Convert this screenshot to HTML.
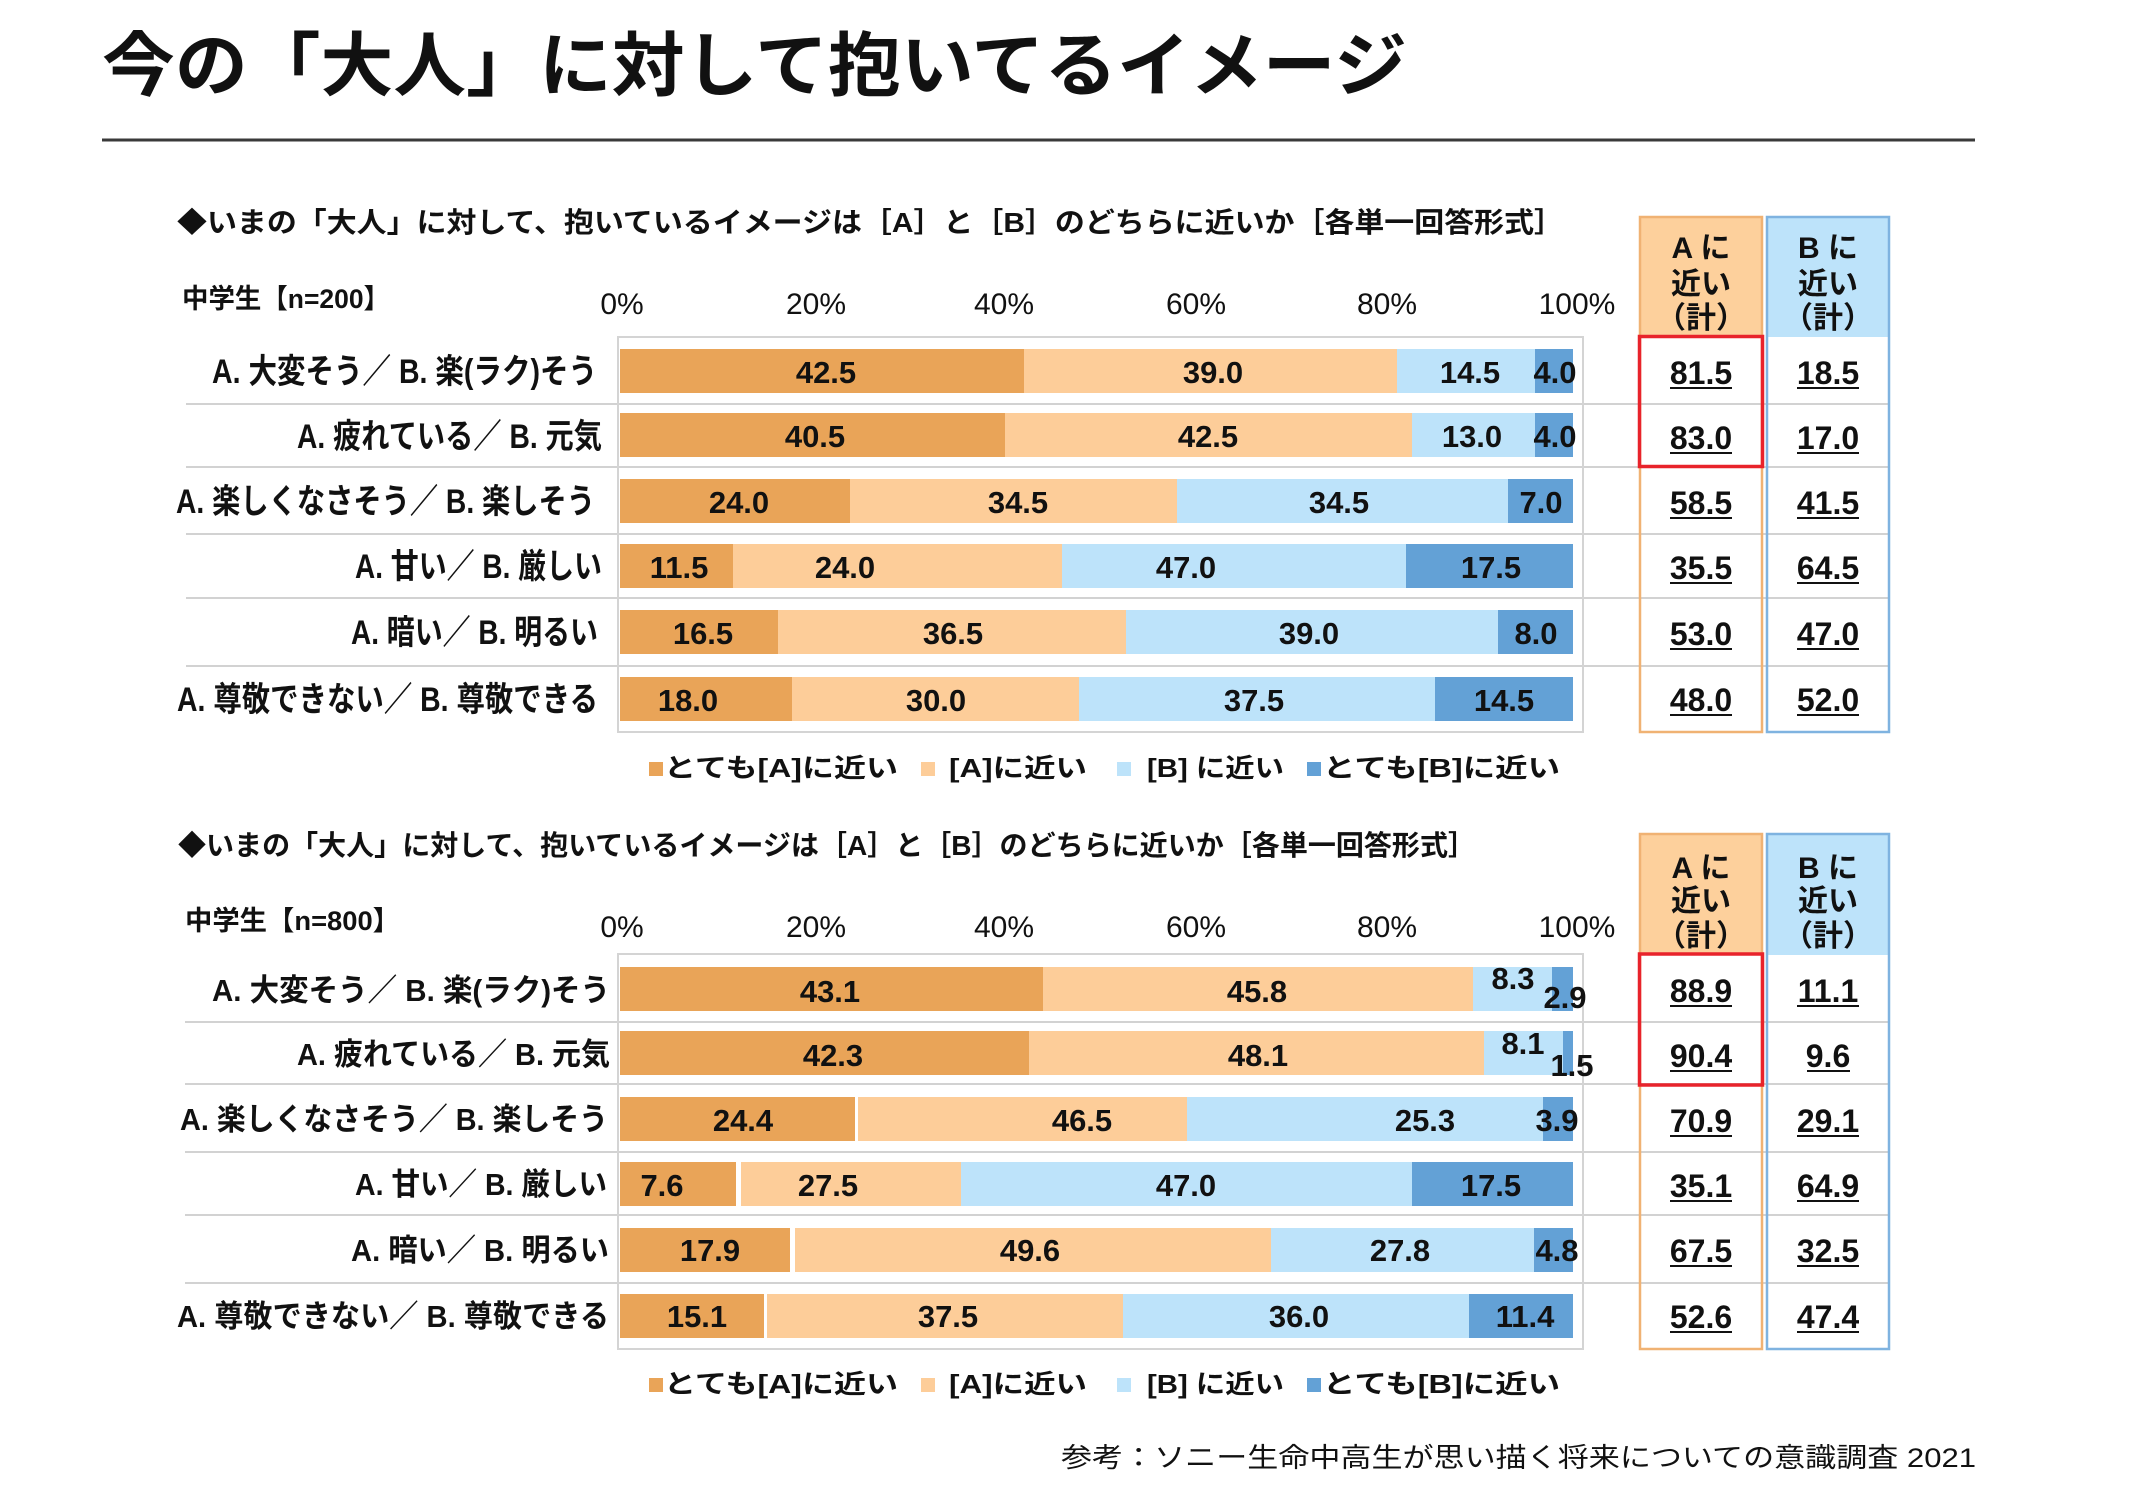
<!DOCTYPE html>
<html><head><meta charset="utf-8">
<style>
html,body{margin:0;padding:0;background:#fff;}
svg{display:block;}
text{font-family:"Liberation Sans","Noto Sans CJK JP",sans-serif;fill:#111;}
.b{font-weight:bold;}
.v{font-size:31px;font-weight:bold;text-anchor:middle;}
.t{font-size:30px;text-anchor:middle;}
.tv{font-size:32px;font-weight:bold;text-anchor:middle;}
.h{font-size:30px;font-weight:bold;text-anchor:middle;}
</style></head>
<body>
<svg width="2134" height="1495" viewBox="0 0 2134 1495" xmlns="http://www.w3.org/2000/svg">
<rect width="2134" height="1495" fill="#fff"/>
<!-- Title -->
<text x="102" y="90" class="b" style="font-size:70px" textLength="1305" lengthAdjust="spacingAndGlyphs">今の「大人」に対して抱いてるイメージ</text>
<line x1="102" y1="140" x2="1975" y2="140" stroke="#3a3a3a" stroke-width="3"/>

<!-- ============ CHART 1 ============ -->
<text x="177" y="232" class="b" style="font-size:28px" textLength="1387" lengthAdjust="spacingAndGlyphs">◆いまの「大人」に対して、抱いているイメージは［A］と［B］のどちらに近いか［各単一回答形式］</text>
<text x="182" y="308" class="b" style="font-size:27px" textLength="208" lengthAdjust="spacingAndGlyphs">中学生【n=200】</text>
<g class="t">
<text x="622" y="314" class="t">0%</text>
<text x="816" y="314" class="t">20%</text>
<text x="1004" y="314" class="t">40%</text>
<text x="1196" y="314" class="t">60%</text>
<text x="1387" y="314" class="t">80%</text>
<text x="1577" y="314" class="t">100%</text>
</g>
<!-- separators -->
<g stroke="#d2d2d2" stroke-width="2">
<line x1="186" y1="404" x2="1889" y2="404"/>
<line x1="186" y1="467" x2="1889" y2="467"/>
<line x1="186" y1="534" x2="1889" y2="534"/>
<line x1="186" y1="598" x2="1889" y2="598"/>
<line x1="186" y1="666" x2="1889" y2="666"/>
</g>
<rect x="618" y="337" width="965" height="395" fill="none" stroke="#d4d4d4" stroke-width="2"/>
<!-- bars -->
<g>
<rect x="620" y="349" width="404" height="44" fill="#E9A458"/>
<rect x="1024" y="349" width="373" height="44" fill="#FDCD99"/>
<rect x="1397" y="349" width="138" height="44" fill="#BDE3FA"/>
<rect x="1535" y="349" width="38" height="44" fill="#63A1D6"/>

<rect x="620" y="413" width="385" height="44" fill="#E9A458"/>
<rect x="1005" y="413" width="407" height="44" fill="#FDCD99"/>
<rect x="1412" y="413" width="123" height="44" fill="#BDE3FA"/>
<rect x="1535" y="413" width="38" height="44" fill="#63A1D6"/>

<rect x="620" y="479" width="230" height="44" fill="#E9A458"/>
<rect x="850" y="479" width="327" height="44" fill="#FDCD99"/>
<rect x="1177" y="479" width="331" height="44" fill="#BDE3FA"/>
<rect x="1508" y="479" width="65" height="44" fill="#63A1D6"/>

<rect x="620" y="544" width="113" height="44" fill="#E9A458"/>
<rect x="733" y="544" width="329" height="44" fill="#FDCD99"/>
<rect x="1062" y="544" width="344" height="44" fill="#BDE3FA"/>
<rect x="1406" y="544" width="167" height="44" fill="#63A1D6"/>

<rect x="620" y="610" width="158" height="44" fill="#E9A458"/>
<rect x="778" y="610" width="348" height="44" fill="#FDCD99"/>
<rect x="1126" y="610" width="372" height="44" fill="#BDE3FA"/>
<rect x="1498" y="610" width="75" height="44" fill="#63A1D6"/>

<rect x="620" y="677" width="172" height="44" fill="#E9A458"/>
<rect x="792" y="677" width="287" height="44" fill="#FDCD99"/>
<rect x="1079" y="677" width="356" height="44" fill="#BDE3FA"/>
<rect x="1435" y="677" width="138" height="44" fill="#63A1D6"/>
</g>
<!-- values -->
<text x="826" y="383" class="v">42.5</text><text x="1213" y="383" class="v">39.0</text><text x="1470" y="383" class="v">14.5</text><text x="1555" y="383" class="v">4.0</text>
<text x="815" y="447" class="v">40.5</text><text x="1208" y="447" class="v">42.5</text><text x="1472" y="447" class="v">13.0</text><text x="1555" y="447" class="v">4.0</text>
<text x="739" y="513" class="v">24.0</text><text x="1018" y="513" class="v">34.5</text><text x="1339" y="513" class="v">34.5</text><text x="1541" y="513" class="v">7.0</text>
<text x="679" y="578" class="v">11.5</text><text x="845" y="578" class="v">24.0</text><text x="1186" y="578" class="v">47.0</text><text x="1491" y="578" class="v">17.5</text>
<text x="703" y="644" class="v">16.5</text><text x="953" y="644" class="v">36.5</text><text x="1309" y="644" class="v">39.0</text><text x="1536" y="644" class="v">8.0</text>
<text x="688" y="711" class="v">18.0</text><text x="936" y="711" class="v">30.0</text><text x="1254" y="711" class="v">37.5</text><text x="1504" y="711" class="v">14.5</text>
<!-- row labels -->
<g class="b" style="font-size:34px">
<text x="212" y="383" textLength="385" lengthAdjust="spacingAndGlyphs">A. 大変そう／ B. 楽(ラク)そう</text>
<text x="297" y="448" textLength="305" lengthAdjust="spacingAndGlyphs">A. 疲れている／ B. 元気</text>
<text x="176" y="513" textLength="419" lengthAdjust="spacingAndGlyphs">A. 楽しくなさそう／ B. 楽しそう</text>
<text x="355" y="578" textLength="247" lengthAdjust="spacingAndGlyphs">A. 甘い／ B. 厳しい</text>
<text x="351" y="644" textLength="247" lengthAdjust="spacingAndGlyphs">A. 暗い／ B. 明るい</text>
<text x="177" y="711" textLength="421" lengthAdjust="spacingAndGlyphs">A. 尊敬できない／ B. 尊敬できる</text>
</g>
<!-- table -->
<rect x="1640" y="217" width="122" height="120" fill="#FDD09C"/>
<rect x="1767" y="217" width="122" height="120" fill="#BDE3FA"/>
<rect x="1640" y="217" width="122" height="515" fill="none" stroke="#F0B273" stroke-width="2.5"/>
<rect x="1767" y="217" width="122" height="515" fill="none" stroke="#7FB3E0" stroke-width="2.5"/>
<text x="1701" y="258" class="h">A に</text><text x="1701" y="294" class="h">近い</text><text x="1701" y="328" class="h">（計）</text>
<text x="1828" y="258" class="h">B に</text><text x="1828" y="294" class="h">近い</text><text x="1828" y="328" class="h">（計）</text>
<rect x="1639.5" y="336.5" width="123" height="130" fill="none" stroke="#E8232B" stroke-width="3.5"/>
<g class="tv">
<text x="1701" y="384" class="tv">81.5</text><text x="1828" y="384" class="tv">18.5</text>
<text x="1701" y="449" class="tv">83.0</text><text x="1828" y="449" class="tv">17.0</text>
<text x="1701" y="514" class="tv">58.5</text><text x="1828" y="514" class="tv">41.5</text>
<text x="1701" y="579" class="tv">35.5</text><text x="1828" y="579" class="tv">64.5</text>
<text x="1701" y="645" class="tv">53.0</text><text x="1828" y="645" class="tv">47.0</text>
<text x="1701" y="711" class="tv">48.0</text><text x="1828" y="711" class="tv">52.0</text>
</g>
<g stroke="#111" stroke-width="2">
<line x1="1670" y1="388" x2="1732" y2="388"/><line x1="1797" y1="388" x2="1859" y2="388"/>
<line x1="1670" y1="453" x2="1732" y2="453"/><line x1="1797" y1="453" x2="1859" y2="453"/>
<line x1="1670" y1="518" x2="1732" y2="518"/><line x1="1797" y1="518" x2="1859" y2="518"/>
<line x1="1670" y1="583" x2="1732" y2="583"/><line x1="1797" y1="583" x2="1859" y2="583"/>
<line x1="1670" y1="649" x2="1732" y2="649"/><line x1="1797" y1="649" x2="1859" y2="649"/>
<line x1="1670" y1="715" x2="1732" y2="715"/><line x1="1797" y1="715" x2="1859" y2="715"/>
</g>
<!-- legend 1 -->
<rect x="649" y="762" width="14" height="14" fill="#E9A458"/>
<text x="664" y="777" class="b" style="font-size:26px" textLength="234" lengthAdjust="spacingAndGlyphs">とても[A]に近い</text>
<rect x="921" y="762" width="14" height="14" fill="#FDCD99"/>
<text x="949" y="777" class="b" style="font-size:26px" textLength="138" lengthAdjust="spacingAndGlyphs">[A]に近い</text>
<rect x="1117" y="762" width="14" height="14" fill="#BDE3FA"/>
<text x="1147" y="777" class="b" style="font-size:26px" textLength="137" lengthAdjust="spacingAndGlyphs">[B] に近い</text>
<rect x="1307" y="762" width="14" height="14" fill="#63A1D6"/>
<text x="1323" y="777" class="b" style="font-size:26px" textLength="237" lengthAdjust="spacingAndGlyphs">とても[B]に近い</text>

<!-- ============ CHART 2 ============ -->
<text x="178" y="855" class="b" style="font-size:28px" textLength="1298" lengthAdjust="spacingAndGlyphs">◆いまの「大人」に対して、抱いているイメージは［A］と［B］のどちらに近いか［各単一回答形式］</text>
<text x="185" y="930" class="b" style="font-size:27px" textLength="215" lengthAdjust="spacingAndGlyphs">中学生【n=800】</text>
<text x="622" y="937" class="t">0%</text>
<text x="816" y="937" class="t">20%</text>
<text x="1004" y="937" class="t">40%</text>
<text x="1196" y="937" class="t">60%</text>
<text x="1387" y="937" class="t">80%</text>
<text x="1577" y="937" class="t">100%</text>
<g stroke="#d2d2d2" stroke-width="2">
<line x1="185" y1="1022" x2="1889" y2="1022"/>
<line x1="185" y1="1084" x2="1889" y2="1084"/>
<line x1="185" y1="1152" x2="1889" y2="1152"/>
<line x1="185" y1="1215" x2="1889" y2="1215"/>
<line x1="185" y1="1283" x2="1889" y2="1283"/>
</g>
<rect x="618" y="954" width="965" height="395" fill="none" stroke="#d4d4d4" stroke-width="2"/>
<g>
<rect x="620" y="967" width="423" height="44" fill="#E9A458"/>
<rect x="1043" y="967" width="430" height="44" fill="#FDCD99"/>
<rect x="1473" y="967" width="79" height="44" fill="#BDE3FA"/>
<rect x="1552" y="967" width="21" height="44" fill="#63A1D6"/>

<rect x="620" y="1031" width="409" height="44" fill="#E9A458"/>
<rect x="1029" y="1031" width="455" height="44" fill="#FDCD99"/>
<rect x="1484" y="1031" width="79" height="44" fill="#BDE3FA"/>
<rect x="1563" y="1031" width="10" height="44" fill="#63A1D6"/>

<rect x="620" y="1097" width="235" height="44" fill="#E9A458"/>
<rect x="858" y="1097" width="329" height="44" fill="#FDCD99"/>
<rect x="1187" y="1097" width="356" height="44" fill="#BDE3FA"/>
<rect x="1543" y="1097" width="30" height="44" fill="#63A1D6"/>

<rect x="620" y="1162" width="116" height="44" fill="#E9A458"/>
<rect x="741" y="1162" width="220" height="44" fill="#FDCD99"/>
<rect x="961" y="1162" width="451" height="44" fill="#BDE3FA"/>
<rect x="1412" y="1162" width="161" height="44" fill="#63A1D6"/>

<rect x="620" y="1228" width="170" height="44" fill="#E9A458"/>
<rect x="795" y="1228" width="476" height="44" fill="#FDCD99"/>
<rect x="1271" y="1228" width="263" height="44" fill="#BDE3FA"/>
<rect x="1534" y="1228" width="39" height="44" fill="#63A1D6"/>

<rect x="620" y="1294" width="144" height="44" fill="#E9A458"/>
<rect x="767" y="1294" width="356" height="44" fill="#FDCD99"/>
<rect x="1123" y="1294" width="346" height="44" fill="#BDE3FA"/>
<rect x="1469" y="1294" width="104" height="44" fill="#63A1D6"/>
</g>
<text x="830" y="1002" class="v">43.1</text><text x="1257" y="1002" class="v">45.8</text><text x="1513" y="989" class="v">8.3</text><text x="1565" y="1008" class="v">2.9</text>
<text x="833" y="1066" class="v">42.3</text><text x="1258" y="1066" class="v">48.1</text><text x="1523" y="1054" class="v">8.1</text><text x="1572" y="1076" class="v">1.5</text>
<text x="743" y="1131" class="v">24.4</text><text x="1082" y="1131" class="v">46.5</text><text x="1425" y="1131" class="v">25.3</text><text x="1557" y="1131" class="v">3.9</text>
<text x="662" y="1196" class="v">7.6</text><text x="828" y="1196" class="v">27.5</text><text x="1186" y="1196" class="v">47.0</text><text x="1491" y="1196" class="v">17.5</text>
<text x="710" y="1261" class="v">17.9</text><text x="1030" y="1261" class="v">49.6</text><text x="1400" y="1261" class="v">27.8</text><text x="1557" y="1261" class="v">4.8</text>
<text x="697" y="1327" class="v">15.1</text><text x="948" y="1327" class="v">37.5</text><text x="1299" y="1327" class="v">36.0</text><text x="1525" y="1327" class="v">11.4</text>
<g class="b" style="font-size:31px">
<text x="212" y="1001" textLength="398" lengthAdjust="spacingAndGlyphs">A. 大変そう／ B. 楽(ラク)そう</text>
<text x="297" y="1065" textLength="313" lengthAdjust="spacingAndGlyphs">A. 疲れている／ B. 元気</text>
<text x="180" y="1130" textLength="428" lengthAdjust="spacingAndGlyphs">A. 楽しくなさそう／ B. 楽しそう</text>
<text x="355" y="1195" textLength="252" lengthAdjust="spacingAndGlyphs">A. 甘い／ B. 厳しい</text>
<text x="351" y="1261" textLength="258" lengthAdjust="spacingAndGlyphs">A. 暗い／ B. 明るい</text>
<text x="177" y="1327" textLength="432" lengthAdjust="spacingAndGlyphs">A. 尊敬できない／ B. 尊敬できる</text>
</g>
<rect x="1640" y="834" width="122" height="121" fill="#FDD09C"/>
<rect x="1767" y="834" width="122" height="121" fill="#BDE3FA"/>
<rect x="1640" y="834" width="122" height="515" fill="none" stroke="#F0B273" stroke-width="2.5"/>
<rect x="1767" y="834" width="122" height="515" fill="none" stroke="#7FB3E0" stroke-width="2.5"/>
<text x="1701" y="878" class="h">A に</text><text x="1701" y="911" class="h">近い</text><text x="1701" y="946" class="h">（計）</text>
<text x="1828" y="878" class="h">B に</text><text x="1828" y="911" class="h">近い</text><text x="1828" y="946" class="h">（計）</text>
<rect x="1639.5" y="954" width="123" height="131" fill="none" stroke="#E8232B" stroke-width="3.5"/>
<text x="1701" y="1002" class="tv">88.9</text><text x="1828" y="1002" class="tv">11.1</text>
<text x="1701" y="1067" class="tv">90.4</text><text x="1828" y="1067" class="tv">9.6</text>
<text x="1701" y="1132" class="tv">70.9</text><text x="1828" y="1132" class="tv">29.1</text>
<text x="1701" y="1197" class="tv">35.1</text><text x="1828" y="1197" class="tv">64.9</text>
<text x="1701" y="1262" class="tv">67.5</text><text x="1828" y="1262" class="tv">32.5</text>
<text x="1701" y="1328" class="tv">52.6</text><text x="1828" y="1328" class="tv">47.4</text>
<g stroke="#111" stroke-width="2">
<line x1="1670" y1="1006" x2="1732" y2="1006"/><line x1="1797" y1="1006" x2="1859" y2="1006"/>
<line x1="1670" y1="1071" x2="1732" y2="1071"/><line x1="1807" y1="1071" x2="1850" y2="1071"/>
<line x1="1670" y1="1136" x2="1732" y2="1136"/><line x1="1797" y1="1136" x2="1859" y2="1136"/>
<line x1="1670" y1="1201" x2="1732" y2="1201"/><line x1="1797" y1="1201" x2="1859" y2="1201"/>
<line x1="1670" y1="1266" x2="1732" y2="1266"/><line x1="1797" y1="1266" x2="1859" y2="1266"/>
<line x1="1670" y1="1332" x2="1732" y2="1332"/><line x1="1797" y1="1332" x2="1859" y2="1332"/>
</g>
<!-- legend 2 -->
<rect x="649" y="1378" width="14" height="14" fill="#E9A458"/>
<text x="664" y="1393" class="b" style="font-size:26px" textLength="234" lengthAdjust="spacingAndGlyphs">とても[A]に近い</text>
<rect x="921" y="1378" width="14" height="14" fill="#FDCD99"/>
<text x="949" y="1393" class="b" style="font-size:26px" textLength="138" lengthAdjust="spacingAndGlyphs">[A]に近い</text>
<rect x="1117" y="1378" width="14" height="14" fill="#BDE3FA"/>
<text x="1147" y="1393" class="b" style="font-size:26px" textLength="137" lengthAdjust="spacingAndGlyphs">[B] に近い</text>
<rect x="1307" y="1378" width="14" height="14" fill="#63A1D6"/>
<text x="1323" y="1393" class="b" style="font-size:26px" textLength="237" lengthAdjust="spacingAndGlyphs">とても[B]に近い</text>

<!-- source -->
<text x="1061" y="1467" style="font-size:27px" textLength="915" lengthAdjust="spacingAndGlyphs">参考：ソニー生命中高生が思い描く将来についての意識調査 2021</text>
</svg>
</body></html>
